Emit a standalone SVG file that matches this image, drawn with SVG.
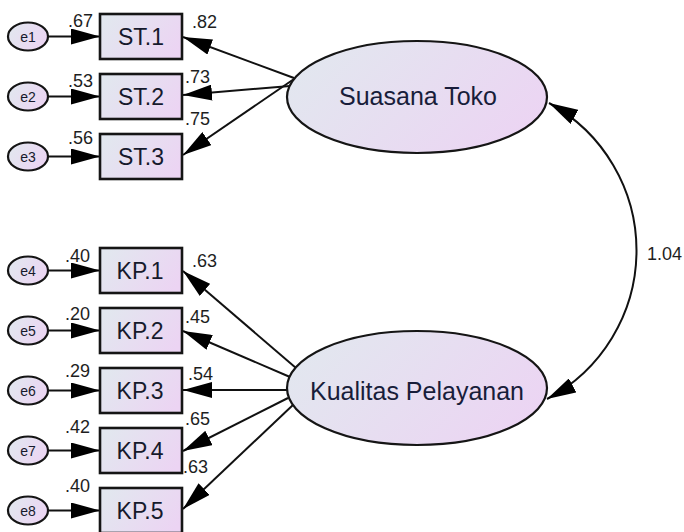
<svg xmlns="http://www.w3.org/2000/svg" width="684" height="532" viewBox="0 0 684 532">
  <defs>
    <linearGradient id="fillGrad" x1="0" y1="0.3" x2="1" y2="0.7">
      <stop offset="0" stop-color="#e2e7ef"/>
      <stop offset="1" stop-color="#ecd4f3"/>
    </linearGradient>
    <marker id="arrow" viewBox="0 0 29 16" refX="29" refY="8" markerWidth="29" markerHeight="16" markerUnits="userSpaceOnUse" orient="auto-start-reverse">
      <path d="M0,0 L29,8 L0,16 z" fill="#000"/>
    </marker>
    <style>
      .box { fill: url(#fillGrad); stroke: #151515; stroke-width: 2.6; }
      .lat { fill: url(#fillGrad); stroke: #151515; stroke-width: 2.2; }
      .err { fill: url(#fillGrad); stroke: #151515; stroke-width: 2.2; }
      .edge { fill: none; stroke: #111; stroke-width: 2; marker-end: url(#arrow); }
      .cov { fill: none; stroke: #111; stroke-width: 2; marker-start: url(#arrow); marker-end: url(#arrow); }
      .lbl { font-family: "Liberation Sans", Arial, sans-serif; font-size: 23px; fill: #161a2c; text-anchor: middle; }
      .latlbl { font-family: "Liberation Sans", Arial, sans-serif; font-size: 25px; fill: #181d3a; text-anchor: middle; }
      .elbl { font-family: "Liberation Sans", Arial, sans-serif; font-size: 14px; fill: #161a2c; text-anchor: middle; }
      .num { font-family: "Liberation Sans", Arial, sans-serif; font-size: 18px; fill: #1e1e1e; }
    </style>
  </defs>

  <!-- connectors -->
  <g id="connectors">
    <!-- error terms to indicators -->
    <line class="edge" x1="48" y1="36.5" x2="100" y2="36.5"/>
    <line class="edge" x1="48" y1="96.5" x2="100" y2="96.5"/>
    <line class="edge" x1="48" y1="156.5" x2="100" y2="156.5"/>
    <line class="edge" x1="48" y1="270.5" x2="100" y2="270.5"/>
    <line class="edge" x1="48" y1="330.5" x2="100" y2="330.5"/>
    <line class="edge" x1="48" y1="390.5" x2="100" y2="390.5"/>
    <line class="edge" x1="48" y1="450.5" x2="100" y2="450.5"/>
    <line class="edge" x1="48" y1="510.5" x2="100" y2="510.5"/>
    <!-- Suasana Toko loadings -->
    <line class="edge" x1="294" y1="78" x2="183" y2="37"/>
    <line class="edge" x1="290" y1="86" x2="183" y2="95"/>
    <line class="edge" x1="294" y1="79" x2="183" y2="155"/>
    <!-- Kualitas Pelayanan loadings -->
    <line class="edge" x1="296" y1="368" x2="183" y2="271"/>
    <line class="edge" x1="290" y1="377" x2="183" y2="331"/>
    <line class="edge" x1="287" y1="390" x2="183" y2="390"/>
    <line class="edge" x1="288" y1="398" x2="183" y2="451"/>
    <line class="edge" x1="294" y1="404" x2="183" y2="509"/>
    <!-- covariance -->
    <path class="cov" d="M549,103 A168,168 0 0 1 547,399"/>
  </g>

  <!-- error terms -->
  <g id="e1"><ellipse class="err" cx="28" cy="36.5" rx="20" ry="14"/><text class="elbl" x="28" y="41.5">e1</text></g>
  <g id="e2"><ellipse class="err" cx="28" cy="96.5" rx="20" ry="14"/><text class="elbl" x="28" y="101.5">e2</text></g>
  <g id="e3"><ellipse class="err" cx="28" cy="156.5" rx="20" ry="14"/><text class="elbl" x="28" y="161.5">e3</text></g>
  <g id="e4"><ellipse class="err" cx="28" cy="270.5" rx="20" ry="14"/><text class="elbl" x="28" y="275.5">e4</text></g>
  <g id="e5"><ellipse class="err" cx="28" cy="330.5" rx="20" ry="14"/><text class="elbl" x="28" y="335.5">e5</text></g>
  <g id="e6"><ellipse class="err" cx="28" cy="390.5" rx="20" ry="14"/><text class="elbl" x="28" y="395.5">e6</text></g>
  <g id="e7"><ellipse class="err" cx="28" cy="450.5" rx="20" ry="14"/><text class="elbl" x="28" y="455.5">e7</text></g>
  <g id="e8"><ellipse class="err" cx="28" cy="510.5" rx="20" ry="14"/><text class="elbl" x="28" y="515.5">e8</text></g>

  <!-- indicators -->
  <g id="ST1"><rect class="box" x="100" y="14" width="82" height="45"/><text class="lbl" x="141" y="45">ST.1</text></g>
  <g id="ST2"><rect class="box" x="100" y="74" width="82" height="45"/><text class="lbl" x="141" y="105">ST.2</text></g>
  <g id="ST3"><rect class="box" x="100" y="134" width="82" height="45"/><text class="lbl" x="141" y="165">ST.3</text></g>
  <g id="KP1"><rect class="box" x="100" y="248" width="82" height="45"/><text class="lbl" x="140" y="279">KP.1</text></g>
  <g id="KP2"><rect class="box" x="100" y="308" width="82" height="45"/><text class="lbl" x="140" y="339">KP.2</text></g>
  <g id="KP3"><rect class="box" x="100" y="368" width="82" height="45"/><text class="lbl" x="140" y="399">KP.3</text></g>
  <g id="KP4"><rect class="box" x="100" y="428" width="82" height="45"/><text class="lbl" x="140" y="459">KP.4</text></g>
  <g id="KP5"><rect class="box" x="100" y="488" width="82" height="45"/><text class="lbl" x="140" y="519">KP.5</text></g>

  <!-- latent variables -->
  <g id="SuasanaToko"><ellipse class="lat" cx="417" cy="97" rx="130" ry="56"/><text class="latlbl" x="418" y="105">Suasana Toko</text></g>
  <g id="KualitasPelayanan"><ellipse class="lat" cx="417" cy="388" rx="130" ry="57"/><text class="latlbl" x="417" y="400">Kualitas Pelayanan</text></g>

  <!-- estimates -->
  <g id="estimates">
    <text class="num" x="68" y="27">.67</text>
    <text class="num" x="68" y="87">.53</text>
    <text class="num" x="68" y="144">.56</text>
    <text class="num" x="192" y="28">.82</text>
    <text class="num" x="185" y="83">.73</text>
    <text class="num" x="185" y="125">.75</text>
    <text class="num" x="65" y="262">.40</text>
    <text class="num" x="192" y="267">.63</text>
    <text class="num" x="65" y="320">.20</text>
    <text class="num" x="185" y="323">.45</text>
    <text class="num" x="65" y="377">.29</text>
    <text class="num" x="188" y="380">.54</text>
    <text class="num" x="65" y="433">.42</text>
    <text class="num" x="185" y="425">.65</text>
    <text class="num" x="183" y="473">.63</text>
    <text class="num" x="65" y="492">.40</text>
    <text class="num" x="647" y="260">1.04</text>
  </g>
</svg>
